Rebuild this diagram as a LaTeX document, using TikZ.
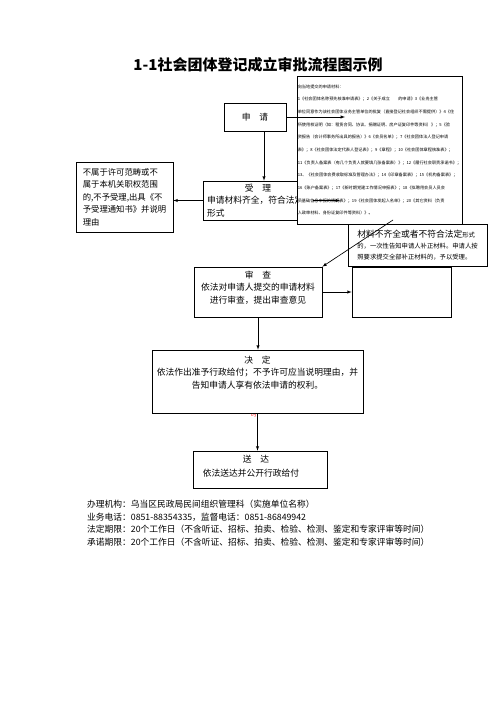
\documentclass[tikz,border=0pt]{standalone}
\usepackage{fontspec}
\setmainfont{Noto Sans CJK SC}
\usepackage{tikz}
\usetikzlibrary{shapes}
\usetikzlibrary{calc}

\begin{document}
\begin{tikzpicture}[x=1.2pt, y=-1.2pt]

		\tikzstyle{box}  = [rectangle, draw, line width=0.8pt, fill=white, inner sep=0pt]
		\tikzstyle{txt}  = [font=\fontsize{10.5}{15}\selectfont, inner sep=0pt]
		\tikzstyle{arr}  = [->, >=latex, line width=0.8pt]
		\useasboundingbox (0,0) rectangle (496,702);
		\node [font=\bfseries\fontsize{18}{18}\selectfont](title) at (258,65) {1-1社会团体登记成立审批流程图示例};
		\node [box, txt, minimum width=74.4pt, minimum height=33.6pt](shenqing) at (255,117) {申\quad 请};
		\node [box, txt, align=left, minimum width=116.4pt, minimum height=84pt, font=\fontsize{10}{15}\selectfont](refuse) at (124.5,197) {不属于许可范畴或不\\属于本机关职权范围\\的,不予受理,出具《不\\予受理通知书》并说明\\理由};
		\node [box, txt, align=left, minimum width=132pt, minimum height=46.8pt](shouli) at (258,200.5) {\makebox[122pt][c]{受\quad 理}\\申请材料齐全，符合法定\\形式};
		\node [box, align=left, minimum width=198pt, minimum height=177.6pt, font=\fontsize{5}{15.2}\selectfont](cailiao) at (379.5,150) {向当地提交的申请材料：\\
1《社会团体名称预先核准申请表》；2《关于成立\quad\quad 的申请》3《业务主管\\
单位同意作为该社会团体业务主管单位的批复（直接登记社会组织不需提供）》4《住\\
所使用权证明（如：租赁合同、协议、捐赠证明、房产证复印件等资料）》；5《验\\
资报告（会计师事务所出具的报告）》6《会员名单》；7《社会团体法人登记申请\\
表》；8《社会团体法定代表人登记表》；9《章程》；10《社会团体章程核准表》；\\
11《负责人备案表（有几个负责人就要填几张备案表）》；12《履行社会职责承诺书》；\\
13、《社会团体会费收取标准及管理办法》；14《印章备案表》；15《机构备案表》；\\
16《账户备案表》；17《新时期党建工作情况申报表》；18《拟聘用会员人员会\\
员基础信息申报的情况表》；19《社会团体发起人名单》；20《其它资料（负责\\
人政审材料、身份证复印件等资料）》。};
		\node [box, align=left, minimum width=166.8pt, minimum height=50.4pt, font=\fontsize{7.6}{13.5}\selectfont](buqi) at (417.5,245) {{\fontsize{10.5}{13.5}\selectfont 材料不齐全或者不符合法定}形式\\的，一次性告知申请人补正材料。申请人按\\照要求提交全部补正材料的，予以受理。};
		\node [box, minimum width=118.8pt, minimum height=60pt](blank) at (401.5,292) {};
		\node [box, minimum width=153.6pt, minimum height=60pt, label={[txt, align=center, anchor=north, yshift=-4.8pt]north:审\quad 查\\依法对申请人提交的申请材料\\进行审查，提出审查意见}](shencha) at (258,292) {};
		\node [text=red, font=\fontsize{7}{7}\selectfont](shi) at (254,414) {时};
		\node [box, minimum width=253.2pt, minimum height=75.6pt, label={[txt, align=center, anchor=north, yshift=-7.2pt]north:决\quad 定\\依法作出准予行政给付；不予许可应当说明理由，并\\告知申请人享有依法申请的权利。}](jueding) at (257.5,381.5) {};
		\node [box, minimum width=160.8pt, minimum height=44.4pt, label={[txt, anchor=north, yshift=-4.8pt, xshift=-4.8pt]north:送\quad 达}, label={[txt, anchor=north west, yshift=-21.6pt, xshift=12pt]north west:依法送达并公开行政给付}](songda) at (260,469.5) {};
		\coordinate (c1) at (345,117);
		\coordinate (c2) at (340,200.5);
		\coordinate (c3) at (393,220);
		\draw [arr] ([xshift=10.8pt]shenqing.south) -- ([xshift=10.8pt]shenqing.south |- shouli.north);
		\draw [arr] (shenqing.east) -- (c1);
		\draw [arr] (shouli.west) -- (refuse.east |- shouli.west);
		\draw [arr] (shouli.east) -- (c2);
		\draw [arr] (c3) -- (shencha.north east);
		\draw [arr] (shencha.east) -- (blank.west);
		\draw [arr] (shencha.south) -- (shencha.south |- jueding.north);
		\draw [arr] (jueding.south) -- (jueding.south |- songda.north);
		\node [txt, align=left, anchor=north west, font=\fontsize{10.5}{15.2}\selectfont](info) at (87,500) {办理机构：乌当区民政局民间组织管理科（实施单位名称）\\业务电话：0851-88354335，监督电话：0851-86849942\\法定期限：20个工作日（不含听证、招标、拍卖、检验、检测、鉴定和专家评审等时间）\\承诺期限：20个工作日（不含听证、招标、拍卖、检验、检测、鉴定和专家评审等时间）};

	\end{tikzpicture}
\end{document}
